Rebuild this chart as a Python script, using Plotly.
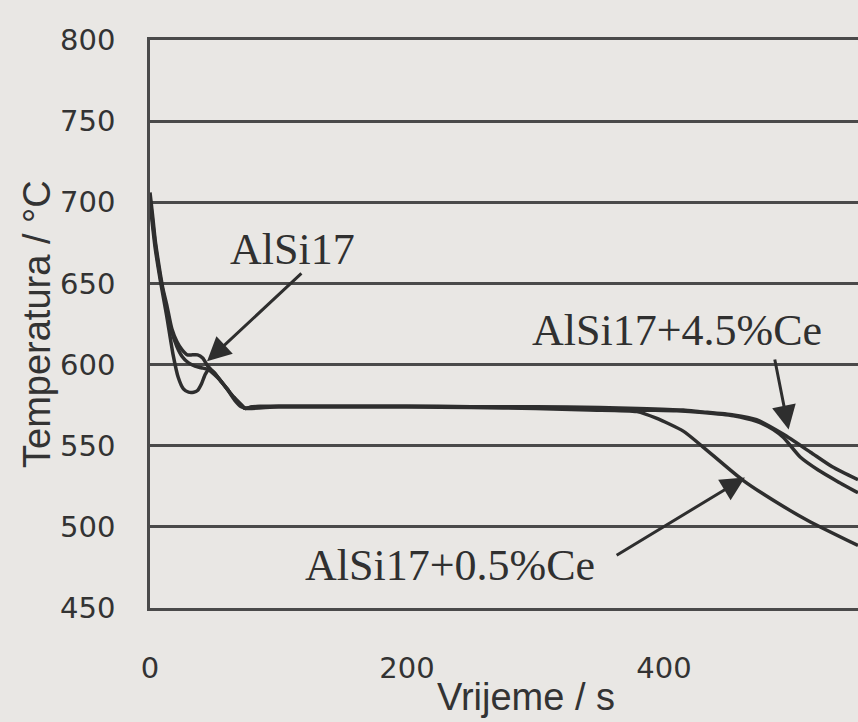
import plotly.graph_objects as go

# Time (s) and temperature (°C)
t_alsi17 = [0, 2, 4, 6, 8, 10, 13, 17, 21, 25, 29, 33, 37, 41, 45, 50, 55, 60, 65, 70, 74, 80,
            100, 150, 200, 250, 300, 350, 380, 410, 430, 454, 472, 485, 493, 506, 520, 535, 551]
T_alsi17 = [706, 692, 677, 666, 656, 647, 637, 622, 614, 609, 606, 606, 606, 604, 599, 595, 590, 585, 580, 576, 573, 574,
            574, 574, 574, 574, 573.5, 573, 572, 571.5, 570.5, 568.5, 565, 560, 555, 543, 535, 528, 521]

t_ce05 = [0, 4, 8, 13, 18, 22, 26, 30, 34, 37, 40, 43, 46, 50, 55, 60, 66, 71, 76,
          100, 150, 200, 250, 300, 342, 379, 394, 415, 430, 461, 493, 514, 551]
T_ce05 = [700, 672, 652, 630, 606, 592, 585, 583, 583, 584, 588, 594, 597, 595, 590, 585, 578, 574, 573,
          574, 574, 574, 573.5, 573, 572, 571, 567, 559, 549.5, 529, 512.5, 503, 488.5]

t_ce45 = [0, 4, 8, 13, 17, 21, 25, 30, 35, 40, 45, 50, 55, 60, 65, 70, 74, 80,
          100, 150, 200, 250, 300, 350, 380, 415, 428, 454, 472, 493, 514, 531, 551]
T_ce45 = [703, 675, 654, 634, 620, 611, 605, 601, 599, 598, 597, 594, 590, 585, 580, 576, 573, 574,
          574.5, 574.5, 574.5, 574, 574, 573.5, 573, 572, 571, 569, 566, 557, 546, 537, 529]

y_ticks = [450, 500, 550, 600, 650, 700, 750, 800]
x_ticks = [0, 200, 400]

label_alsi17 = "AlSi17"
label_ce05 = "AlSi17+0.5%Ce"
label_ce45 = "AlSi17+4.5%Ce"

PAPER = "#e9e7e4"
INK = "#2e2e2e"
GRID = "#4a4a4a"

fig = go.Figure()
for tx, ty, name in [(t_alsi17, T_alsi17, label_alsi17),
                     (t_ce45, T_ce45, label_ce45),
                     (t_ce05, T_ce05, label_ce05)]:
    fig.add_trace(go.Scatter(x=tx, y=ty, mode="lines", name=name,
                             line=dict(color=INK, width=3.5, shape="spline", smoothing=0.6),
                             showlegend=False, hoverinfo="skip"))

serif = dict(family="Liberation Serif, Times New Roman, serif", size=44, color="#303030")

annotations = [
    dict(x=111, y=671, text=label_alsi17, showarrow=False, font=serif),
    dict(x=410, y=621, text=label_ce45, showarrow=False, font=serif),
    dict(x=233.5, y=476, text=label_ce05, showarrow=False, font=serif),
    # arrows
    dict(x=44.4, y=602, ax=119, ay=657, axref="x", ayref="y", text="", showarrow=True,
         arrowhead=2, arrowsize=1.6, arrowwidth=3, arrowcolor=INK),
    dict(x=497, y=560, ax=486, ay=604, axref="x", ayref="y", text="", showarrow=True,
         arrowhead=2, arrowsize=1.6, arrowwidth=3, arrowcolor=INK),
    dict(x=463, y=530.4, ax=362, ay=482, axref="x", ayref="y", text="", showarrow=True,
         arrowhead=2, arrowsize=1.6, arrowwidth=3, arrowcolor=INK),
    # axis titles
    dict(x=293, y=0, xref="x", yref="paper", yanchor="middle", yshift=-89,
         text="Vrijeme / s", showarrow=False,
         font=dict(family="Liberation Sans, Arial, sans-serif", size=38, color="#333333")),
    dict(x=0, y=0.5, xref="paper", yref="paper", xanchor="center", yanchor="middle",
         xshift=-113, textangle=-90,
         text="Temperatura / °C", showarrow=False,
         font=dict(family="Liberation Sans, Arial, sans-serif", size=38, color="#333333")),
]

fig.update_layout(
    width=858, height=722,
    margin=dict(l=150, r=0, t=40, b=114),
    paper_bgcolor=PAPER, plot_bgcolor=PAPER,
    annotations=annotations,
    xaxis=dict(range=[0, 551], tickvals=x_ticks, showgrid=False, zeroline=False,
               showline=True, mirror=True, linecolor=GRID, linewidth=2.5,
               ticks="", ticklabelstandoff=32,
               tickfont=dict(family="DejaVu Sans", size=29, color="#333333")),
    yaxis=dict(range=[450, 800], tickvals=y_ticks, showgrid=True, gridcolor=GRID, gridwidth=2.5,
               zeroline=False, showline=True, linecolor=GRID, linewidth=2.5,
               ticks="", ticklabelstandoff=26,
               tickfont=dict(family="DejaVu Sans", size=29, color="#333333")),
)

fig.write_html("out.html", config={"displayModeBar": False},
               post_script="document.body.style.margin='0';")
